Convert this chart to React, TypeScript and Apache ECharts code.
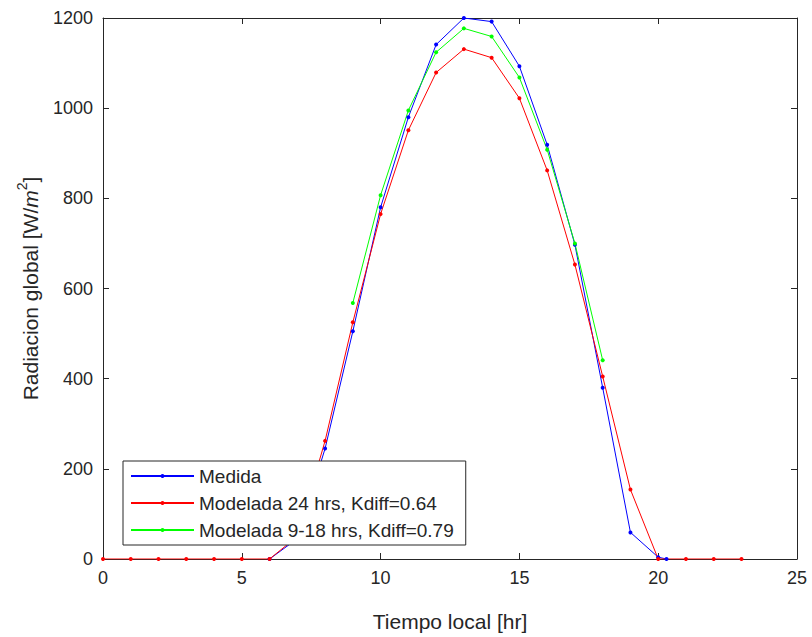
import React, { useEffect, useRef } from "react";
import * as echarts from "echarts";

const hours24 = [0,1,2,3,4,5,6,7,8,9,10,11,12,13,14,15,16,17,18,19,20,21,22,23];
const modelada24 = [0,0,0,0,0,0,0,50,262,525,765,951,1079,1131,1112,1022,862,653,405,154,0,0,0,0];
const medidaHours = [6,7,8,9,10,11,12,13,14,15,16,17,18,19,20,20.3];
const medida = [0,45,245,505,780,980,1141,1200,1192,1093,919,697,380,59,4,0];
const hours918 = [9,10,11,12,13,14,15,16,17,18];
const modelada918 = [568,807,995,1124,1177,1159,1068,908,700,441];

const seriesNames = ["Medida", "Modelada 24 hrs, Kdiff=0.64", "Modelada 9-18 hrs, Kdiff=0.79"];
const xTicks = { min: 0, max: 25, interval: 5 };
const yTicks = { min: 0, max: 1200, interval: 200 };

const zip = (xs: number[], ys: number[]) => xs.map((x, i) => [x, ys[i]]);

export default function App() {
  const ref = useRef<HTMLDivElement>(null);
  useEffect(() => {
    if (!ref.current) return;
    const chart = echarts.init(ref.current, undefined, { renderer: "svg" });
    const axisColor = "#262626";
    const font = "'Liberation Sans', Arial, sans-serif";
    const baseAxis = {
      axisLine: { show: true, onZero: false, lineStyle: { color: axisColor, width: 1 } },
      axisTick: { show: true, inside: true, length: 6, lineStyle: { color: axisColor } },
      splitLine: { show: false },
    };
    const mk = (name: string, color: string, data: number[][]) => ({
      name,
      type: "line",
      data,
      symbol: "circle",
      symbolSize: 4,
      showSymbol: true,
      lineStyle: { color, width: 1 },
      itemStyle: { color },
      emphasis: { disabled: true },
    });
    chart.setOption({
      animation: false,
      textStyle: { fontFamily: font },
      grid: { left: 103, right: 15, top: 18, bottom: 70, containLabel: false },
      xAxis: [
        {
          type: "value",
          ...xTicks,
          ...baseAxis,
          position: "bottom",
          name: "Tiempo local [hr]",
          nameLocation: "middle",
          nameGap: 52,
          nameTextStyle: { fontSize: 21, color: axisColor, fontFamily: font },
          axisLabel: { fontSize: 18, color: axisColor, margin: 10, fontFamily: font, formatter: (v: number) => String(v) },
        },
        {
          type: "value",
          ...xTicks,
          ...baseAxis,
          position: "top",
          axisLabel: { show: false },
        },
      ],
      yAxis: [
        {
          type: "value",
          ...yTicks,
          ...baseAxis,
          position: "left",
          name: "{a|Radiacion global [W/}{i|m}{s|2}{a|]}",
          nameLocation: "middle",
          nameRotate: 90,
          nameGap: 62,
          nameTextStyle: {
            color: axisColor,
            fontFamily: font,
            rich: {
              a: { fontSize: 21, color: axisColor, fontFamily: font, lineHeight: 26, verticalAlign: "bottom" },
              i: { fontSize: 21, color: axisColor, fontFamily: font, fontStyle: "italic", lineHeight: 26, verticalAlign: "bottom" },
              s: { fontSize: 14, color: axisColor, fontFamily: font, lineHeight: 26, verticalAlign: "top" },
            },
          },
          axisLabel: { fontSize: 18, color: axisColor, margin: 10, fontFamily: font, formatter: (v: number) => String(v) },
        },
        {
          type: "value",
          ...yTicks,
          ...baseAxis,
          position: "right",
          axisLabel: { show: false },
        },
      ],
      legend: {
        orient: "vertical",
        left: 123,
        top: 461,
        padding: [5, 12, 5, 7],
        itemGap: 7,
        itemWidth: 63,
        itemHeight: 5,
        backgroundColor: "#ffffff",
        borderColor: "#262626",
        borderWidth: 1,
        data: seriesNames,
        textStyle: { fontSize: 19, color: axisColor, fontFamily: font, lineHeight: 20 },
      },
      series: [
        mk(seriesNames[0], "#0000ff", zip(medidaHours, medida)),
        mk(seriesNames[1], "#ff0000", zip(hours24, modelada24)),
        mk(seriesNames[2], "#00ff00", zip(hours918, modelada918)),
      ],
    });
    return () => chart.dispose();
  }, []);
  return <div ref={ref} style={{ width: 812, height: 637, position: "absolute", left: 0, top: 0, background: "#fff" }} />;
}
